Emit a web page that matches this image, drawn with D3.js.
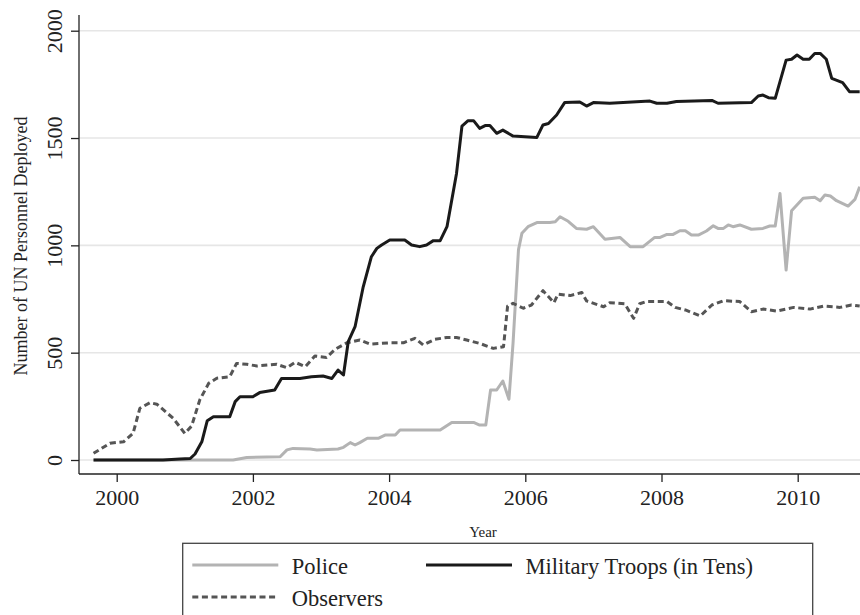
<!DOCTYPE html>
<html>
<head>
<meta charset="utf-8">
<script src="https://cdn.jsdelivr.net/npm/d3@7"></script>
<style>
  body { margin: 0; background: #fff; }
  text { font-family: "Liberation Serif", "Times New Roman", serif; fill: #222; }
</style>
</head>
<body>
<div id="mainchart"></div>
<script>
// UN personnel deployed, monthly (year as decimal)
var militaryData = [
  [1999.66,0],[2000.68,0],[2000.93,5],[2001.08,7],[2001.15,28],[2001.25,85],[2001.33,183],
  [2001.42,202],[2001.66,202],[2001.74,272],[2001.81,295],[2002.0,295],[2002.10,314],
  [2002.32,326],[2002.42,380],[2002.69,380],[2002.86,388],[2003.03,391],[2003.16,380],
  [2003.25,419],[2003.33,396],[2003.40,551],[2003.50,621],[2003.62,807],[2003.74,947],
  [2003.82,986],[2003.89,1002],[2004.01,1025],[2004.23,1025],[2004.33,1002],[2004.45,994],
  [2004.55,1002],[2004.65,1022],[2004.75,1022],[2004.85,1087],[2004.99,1335],[2005.07,1556],
  [2005.16,1581],[2005.24,1581],[2005.33,1545],[2005.41,1558],[2005.48,1558],[2005.58,1522],
  [2005.67,1537],[2005.82,1509],[2006.17,1503],[2006.26,1561],[2006.34,1568],[2006.46,1607],
  [2006.58,1666],[2006.80,1668],[2006.90,1649],[2007.0,1665],[2007.24,1662],[2007.83,1672],
  [2007.93,1662],[2008.08,1662],[2008.22,1670],[2008.74,1675],[2008.83,1662],[2009.32,1665],
  [2009.42,1696],[2009.49,1700],[2009.57,1688],[2009.67,1685],[2009.83,1863],[2009.91,1867],
  [2009.99,1887],[2010.08,1867],[2010.17,1867],[2010.25,1894],[2010.33,1894],[2010.42,1867],
  [2010.50,1778],[2010.66,1758],[2010.76,1716],[2010.91,1716]
];

var policeData = [
  [1999.66,0],[2001.71,0],[2001.91,12],[2002.40,15],[2002.50,47],[2002.59,54],[2002.84,51],
  [2002.94,47],[2003.25,51],[2003.33,59],[2003.43,81],[2003.50,70],[2003.57,81],[2003.68,101],
  [2003.84,101],[2003.94,116],[2004.09,116],[2004.16,140],[2004.75,140],[2004.92,175],
  [2005.24,175],[2005.33,163],[2005.42,163],[2005.49,326],[2005.58,326],[2005.67,368],
  [2005.76,283],[2005.82,544],[2005.90,980],[2005.95,1056],[2006.04,1087],[2006.17,1106],
  [2006.36,1106],[2006.44,1110],[2006.51,1133],[2006.63,1112],[2006.75,1079],[2006.90,1075],
  [2007.0,1087],[2007.17,1028],[2007.39,1037],[2007.54,994],[2007.73,994],[2007.90,1037],
  [2007.98,1037],[2008.08,1051],[2008.17,1051],[2008.27,1068],[2008.35,1068],[2008.44,1048],
  [2008.54,1048],[2008.66,1067],[2008.76,1091],[2008.83,1079],[2008.91,1079],[2008.98,1095],
  [2009.05,1087],[2009.15,1095],[2009.32,1075],[2009.49,1079],[2009.59,1090],[2009.67,1090],
  [2009.74,1242],[2009.83,885],[2009.91,1161],[2010.08,1219],[2010.25,1224],[2010.33,1208],
  [2010.40,1235],[2010.48,1230],[2010.57,1208],[2010.74,1183],[2010.84,1214],[2010.91,1273]
];

var observerData = [
  [1999.66,31],[1999.90,78],[2000.10,85],[2000.24,124],[2000.34,241],[2000.49,267],
  [2000.59,260],[2000.83,194],[2001.0,124],[2001.10,158],[2001.22,280],[2001.35,357],
  [2001.47,381],[2001.66,388],[2001.76,450],[2001.91,446],[2002.06,438],[2002.35,446],
  [2002.50,430],[2002.62,455],[2002.77,435],[2002.91,484],[2003.08,478],[2003.21,516],
  [2003.38,546],[2003.57,559],[2003.72,540],[2004.01,546],[2004.21,546],[2004.38,567],
  [2004.50,536],[2004.67,562],[2004.85,571],[2004.99,571],[2005.14,559],[2005.33,543],
  [2005.53,520],[2005.68,528],[2005.74,717],[2005.82,730],[2005.97,707],[2006.09,722],
  [2006.26,789],[2006.42,733],[2006.48,773],[2006.66,766],[2006.83,780],[2006.90,741],
  [2007.15,714],[2007.24,733],[2007.46,728],[2007.59,660],[2007.68,728],[2007.78,738],
  [2008.08,738],[2008.20,711],[2008.35,699],[2008.57,671],[2008.74,722],[2008.91,742],
  [2009.15,738],[2009.32,691],[2009.49,703],[2009.69,694],[2009.94,711],[2010.18,703],
  [2010.38,717],[2010.62,711],[2010.79,722],[2010.91,717]
];

var yearTicks = [2000, 2002, 2004, 2006, 2008, 2010];
var valueTicks = [0, 500, 1000, 1500, 2000];

const width = 860;
const height = 615;
const left = 79;
const right = 860;
const axisY = 474;

var svg = d3.select("#mainchart")
  .append("svg")
  .attr("width", width)
  .attr("height", height);

var x = d3.scaleLinear().domain([2000, 2010]).range([116.7, 797.7]);
var y = d3.scaleLinear().domain([0, 2000]).range([460, 30.7]);

// gridlines
svg.append("g")
  .selectAll("line")
  .data(valueTicks)
  .enter()
  .append("line")
    .attr("x1", left)
    .attr("x2", right)
    .attr("y1", function(d) { return y(d); })
    .attr("y2", function(d) { return y(d); })
    .style("stroke", "#e6e6e6")
    .style("stroke-width", 1.6);

// y axis
var yAxis = d3.axisLeft(y).tickValues(valueTicks).tickSize(8).tickSizeOuter(0).tickFormat(d3.format("d"));
var gy = svg.append("g")
  .attr("transform", "translate(" + left + ",0)")
  .call(yAxis);
gy.select(".domain").remove();
gy.append("line")
  .attr("x1", 0).attr("x2", 0)
  .attr("y1", 15).attr("y2", axisY)
  .style("stroke", "#222").style("stroke-width", 1.3);
gy.selectAll(".tick line").style("stroke", "#222").style("stroke-width", 1.3);
gy.selectAll(".tick text")
  .attr("x", 0).attr("dy", 0)
  .attr("transform", "translate(-17.5,0) rotate(-90)")
  .style("text-anchor", "middle")
  .style("font-size", "22px")
  .style("font-family", "Liberation Serif")
  .style("fill", "#222");

// x axis
var xAxis = d3.axisBottom(x).tickValues(yearTicks).tickSize(8).tickSizeOuter(0).tickFormat(d3.format("d"));
var gx = svg.append("g")
  .attr("transform", "translate(0," + axisY + ")")
  .call(xAxis);
gx.select(".domain").remove();
gx.append("line")
  .attr("x1", left).attr("x2", right)
  .attr("y1", 0).attr("y2", 0)
  .style("stroke", "#222").style("stroke-width", 1.3);
gx.selectAll(".tick line").style("stroke", "#222").style("stroke-width", 1.3);
gx.selectAll(".tick text")
  .attr("y", 31).attr("dy", 0)
  .style("font-size", "22px")
  .style("font-family", "Liberation Serif")
  .style("fill", "#222");

// axis titles
svg.append("text")
  .attr("transform", "translate(483,537)")
  .style("text-anchor", "middle")
  .style("font-size", "15px")
  .text("Year");

svg.append("text")
  .attr("transform", "translate(27,246) rotate(-90)")
  .style("text-anchor", "middle")
  .style("font-size", "18px")
  .text("Number of UN Personnel Deployed");

// series
var line = d3.line()
  .x(function(d) { return x(d[0]); })
  .y(function(d) { return y(d[1]); });

var series = [
  {name: "Police", data: policeData, color: "#b3b3b3", dash: null},
  {name: "Observers", data: observerData, color: "#555555", dash: "6,3.6"},
  {name: "Military Troops (in Tens)", data: militaryData, color: "#1a1a1a", dash: null}
];

svg.append("g")
  .selectAll("path")
  .data(series)
  .enter()
  .append("path")
    .attr("d", function(d) { return line(d.data); })
    .style("fill", "none")
    .style("stroke", function(d) { return d.color; })
    .style("stroke-width", 3)
    .style("stroke-linejoin", "round")
    .style("stroke-dasharray", function(d) { return d.dash; });

// legend
var legend = svg.append("g");
legend.append("rect")
  .attr("x", 182.7)
  .attr("y", 543.3)
  .attr("width", 630)
  .attr("height", 100)
  .style("fill", "#fff")
  .style("stroke", "#444")
  .style("stroke-width", 1.3);

var legendPos = [
  {s: series[0], lx: 192.3, ly: 565},
  {s: series[2], lx: 426, ly: 565},
  {s: series[1], lx: 192.3, ly: 597}
];

legend.selectAll("line")
  .data(legendPos)
  .enter()
  .append("line")
    .attr("x1", function(d) { return d.lx; })
    .attr("x2", function(d) { return d.lx + 86; })
    .attr("y1", function(d) { return d.ly; })
    .attr("y2", function(d) { return d.ly; })
    .style("stroke", function(d) { return d.s.color; })
    .style("stroke-width", 3)
    .style("stroke-dasharray", function(d) { return d.s.dash; });

legend.selectAll("text")
  .data(legendPos)
  .enter()
  .append("text")
    .attr("x", function(d) { return d.lx + 99.5; })
    .attr("y", function(d) { return d.ly + 8.5; })
    .style("font-size", "22.5px")
    .text(function(d) { return d.s.name; });
</script>
</body>
</html>
